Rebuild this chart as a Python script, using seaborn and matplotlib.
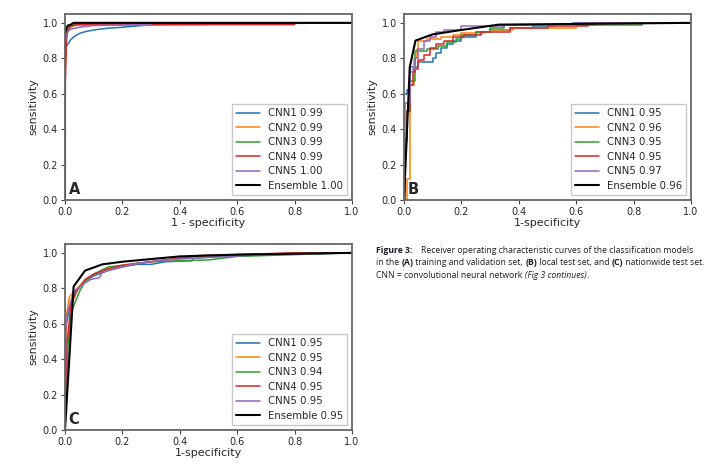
import matplotlib
matplotlib.use("Agg")
import matplotlib.pyplot as plt
import seaborn as sns
import pandas as pd

# ---- panel A: training and validation set
a_labels = ["CNN1 0.99", "CNN2 0.99", "CNN3 0.99", "CNN4 0.99", "CNN5 1.00", "Ensemble 1.00"]
a_fpr = [
    [0, 0, 0.005, 0.01, 0.02, 0.03, 0.05, 0.07, 0.1, 0.15, 0.2, 0.3, 1.0],
    [0, 0, 0.005, 0.01, 0.02, 0.05, 0.5, 0.5, 1.0],
    [0, 0, 0.005, 0.01, 0.03, 0.1, 0.1, 1.0],
    [0, 0, 0.005, 0.01, 0.02, 0.04, 0.8, 0.8, 1.0],
    [0, 0, 0.01, 0.02, 0.05, 0.1, 0.3, 0.3, 1.0],
    [0, 0, 0.005, 0.01, 0.02, 0.03, 1.0],
]
a_tpr = [
    [0, 0.85, 0.87, 0.88, 0.905, 0.92, 0.94, 0.95, 0.96, 0.97, 0.975, 0.99, 1.0],
    [0, 0.7, 0.95, 0.97, 0.98, 0.99, 0.99, 1.0, 1.0],
    [0, 0.86, 0.93, 0.97, 0.99, 0.99, 1.0, 1.0],
    [0, 0.6, 0.9, 0.96, 0.98, 0.99, 0.99, 1.0, 1.0],
    [0, 0.9, 0.95, 0.965, 0.975, 0.985, 0.99, 1.0, 1.0],
    [0, 0.94, 0.97, 0.985, 0.99, 1.0, 1.0],
]

# ---- panel B: local test set (CNN curves are step curves)
b_labels = ["CNN1 0.95", "CNN2 0.96", "CNN3 0.95", "CNN4 0.95", "CNN5 0.97", "Ensemble 0.96"]
b_fpr = [
    [0, 0, 0.01, 0.02, 0.05, 0.1, 0.11, 0.13, 0.15, 0.17, 0.2, 0.25, 0.3, 0.37, 0.45, 0.52, 0.59, 1.0],
    [0, 0.01, 0.02, 0.035, 0.045, 0.05, 0.08, 0.13, 0.17, 0.2, 0.28, 0.3, 0.38, 0.6, 0.67, 1.0],
    [0, 0.005, 0.01, 0.02, 0.04, 0.08, 0.1, 0.12, 0.15, 0.18, 0.2, 0.25, 0.3, 0.35, 0.83, 1.0],
    [0, 0.005, 0.01, 0.02, 0.03, 0.04, 0.05, 0.07, 0.09, 0.11, 0.14, 0.17, 0.21, 0.27, 0.37, 0.5, 0.64, 1.0],
    [0, 0.005, 0.02, 0.03, 0.04, 0.05, 0.07, 0.09, 0.11, 0.14, 0.2, 0.35, 0.6, 1.0],
    [0, 0.02, 0.04, 0.1, 0.2, 0.33, 1.0],
]
b_tpr = [
    [0, 0.6, 0.62, 0.75, 0.78, 0.8, 0.83, 0.86, 0.88, 0.9, 0.92, 0.95, 0.96, 0.97, 0.98, 0.99, 1.0, 1.0],
    [0, 0.12, 0.65, 0.8, 0.85, 0.9, 0.91, 0.92, 0.93, 0.94, 0.95, 0.96, 0.97, 0.99, 1.0, 1.0],
    [0, 0.35, 0.5, 0.67, 0.84, 0.85, 0.85, 0.87, 0.89, 0.91, 0.93, 0.95, 0.97, 0.99, 1.0, 1.0],
    [0, 0.33, 0.5, 0.65, 0.72, 0.74, 0.79, 0.82, 0.86, 0.88, 0.9, 0.92, 0.93, 0.95, 0.97, 0.98, 1.0, 1.0],
    [0, 0.55, 0.72, 0.74, 0.8, 0.85, 0.9, 0.92, 0.95, 0.96, 0.98, 0.99, 1.0, 1.0],
    [0, 0.75, 0.9, 0.935, 0.96, 0.99, 1.0],
]

# ---- panel C: nationwide test set
c_labels = ["CNN1 0.95", "CNN2 0.95", "CNN3 0.94", "CNN4 0.95", "CNN5 0.95", "Ensemble 0.95"]
c_fpr = [
    [0, 0.005, 0.02, 0.04, 0.07, 0.1, 0.15, 0.2, 0.25, 0.3, 0.35, 0.44, 0.45, 0.55, 0.7, 1.0],
    [0, 0.005, 0.015, 0.03, 0.06, 0.1, 0.15, 0.25, 0.4, 0.5, 0.7, 1.0],
    [0, 0.01, 0.02, 0.03, 0.05, 0.07, 0.1, 0.15, 0.2, 0.3, 0.4, 0.5, 0.6, 0.8, 1.0],
    [0, 0.005, 0.02, 0.04, 0.07, 0.1, 0.15, 0.2, 0.3, 0.4, 0.47, 0.6, 0.8, 1.0],
    [0, 0.003, 0.01, 0.03, 0.06, 0.09, 0.12, 0.13, 0.17, 0.25, 0.35, 0.5, 0.7, 1.0],
    [0, 0.03, 0.07, 0.13, 0.2, 0.3, 0.4, 0.6, 1.0],
]
c_tpr = [
    [0, 0.6, 0.72, 0.79, 0.84, 0.87, 0.9, 0.92, 0.935, 0.935, 0.95, 0.955, 0.97, 0.98, 0.99, 1.0],
    [0, 0.65, 0.75, 0.78, 0.83, 0.88, 0.91, 0.94, 0.97, 0.985, 0.995, 1.0],
    [0, 0.45, 0.65, 0.7, 0.78, 0.84, 0.88, 0.92, 0.93, 0.95, 0.955, 0.96, 0.98, 0.99, 1.0],
    [0, 0.45, 0.7, 0.78, 0.85, 0.88, 0.91, 0.93, 0.95, 0.97, 0.985, 0.99, 1.0, 1.0],
    [0, 0.6, 0.67, 0.78, 0.82, 0.85, 0.86, 0.89, 0.91, 0.94, 0.96, 0.975, 0.99, 1.0],
    [0, 0.81, 0.9, 0.935, 0.95, 0.965, 0.98, 0.99, 1.0],
]

colors = ["#1f77b4", "#ff7f0e", "#2ca02c", "#d62728", "#9467bd", "black"]

sns.set_style("white")
plt.rcParams["font.family"] = ["DejaVu Sans"]

fig = plt.figure(figsize=(7.19, 4.65), dpi=100)
W, H = 719, 465


def px_axes(l, t, r, b):
    return fig.add_axes([l / W, 1 - b / H, (r - l) / W, (b - t) / H])


def draw_panel(ax, labels, fprs, tprs, letter, xlabel, steps=False):
    for i, lab in enumerate(labels):
        df = pd.DataFrame({"fpr": fprs[i], "tpr": tprs[i]})
        kw = {}
        if steps and i < 5:
            kw["drawstyle"] = "steps-post"
        sns.lineplot(data=df, x="fpr", y="tpr", ax=ax, estimator=None, sort=False,
                     color=colors[i], lw=1.5 if i == 5 else 1.1, label=lab, **kw)
    ax.set_xlim(0, 1)
    ax.set_ylim(0, 1.05)
    ax.set_xticks([0, 0.2, 0.4, 0.6, 0.8, 1.0])
    ax.set_yticks([0, 0.2, 0.4, 0.6, 0.8, 1.0])
    ax.tick_params(labelsize=7, length=3, width=0.8, color="#444444", bottom=True, left=True, pad=2)
    ax.set_xlabel(xlabel, fontsize=8, labelpad=1)
    ax.set_ylabel("sensitivity", fontsize=8, labelpad=3)
    for s in ax.spines.values():
        s.set_color("#666666")
        s.set_linewidth(1.3)
    ax.legend(loc="lower right", fontsize=7.3, frameon=True, fancybox=False,
              handlelength=2.3, labelspacing=0.45, borderpad=0.4, edgecolor="#bbbbbb")
    ax.text(0.012, 0.015, letter, transform=ax.transAxes, fontsize=10.5, fontweight="bold",
            ha="left", va="bottom")


axA = px_axes(65, 14, 352, 200)
axB = px_axes(404, 14, 691, 200)
axC = px_axes(65, 244, 352, 430)

draw_panel(axA, a_labels, a_fpr, a_tpr, "A", "1 - specificity")
draw_panel(axB, b_labels, b_fpr, b_tpr, "B", "1-specificity", steps=True)
draw_panel(axC, c_labels, c_fpr, c_tpr, "C", "1-specificity")

# ---- caption, mixed bold / regular runs
caption = [
    [("Figure 3:", "bold", "normal"), ("    Receiver operating characteristic curves of the classification models", "normal", "normal")],
    [("in the ", "normal", "normal"), ("(A)", "bold", "normal"), (" training and validation set, ", "normal", "normal"),
     ("(B)", "bold", "normal"), (" local test set, and ", "normal", "normal"), ("(C)", "bold", "normal"),
     (" nationwide test set.", "normal", "normal")],
    [("CNN = convolutional neural network ", "normal", "normal"), ("(Fig 3 continues)", "normal", "italic"),
     (".", "normal", "normal")],
]
fig.canvas.draw()
renderer = fig.canvas.get_renderer()
y0 = 250
for li, line in enumerate(caption):
    x = 376
    for txt, wt, st in line:
        t = fig.text(x / W, 1 - (y0 + li * 12.5) / H, txt, fontsize=6.2, fontweight=wt, fontstyle=st,
                     family=["Open Sans", "DejaVu Sans"], color="#1c1c28", va="center", ha="left")
        bb = t.get_window_extent(renderer=renderer)
        x += bb.width

fig.savefig("out.png", dpi=100)
